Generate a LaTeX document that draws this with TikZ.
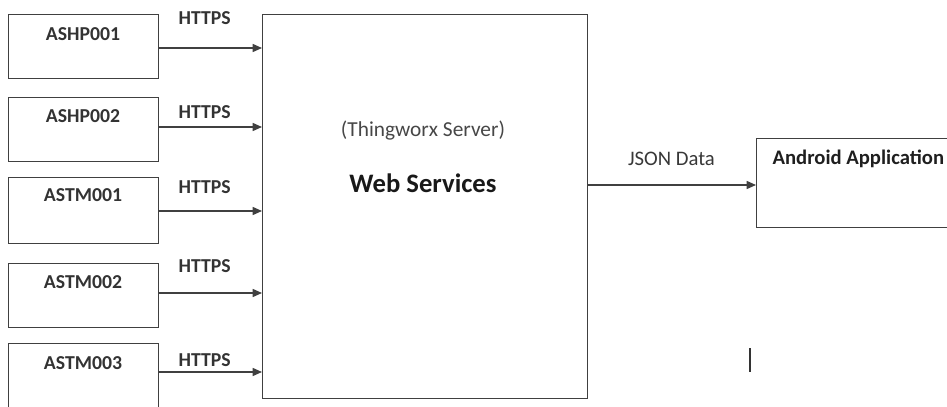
\documentclass[tikz,border=0pt]{standalone}
\usepackage{fontspec}
\setmainfont{Carlito}
\usetikzlibrary{arrows.meta,positioning}

\tikzset{
  blk/.style={draw=black!75, line width=1.1pt, rectangle, inner sep=0pt},
  lbl/.style={font=\fontsize{14.8}{17}\selectfont\bfseries, text=black!80, inner sep=1pt},
  link/.style={draw=black!75, line width=1.1pt, -{Triangle[length=7pt,width=6pt]}},
}

\begin{document}
\begin{tikzpicture}[x=0.75pt,y=-0.75pt]
\clip (0,0) rectangle (947,407);

% devices on the left
\node[blk, minimum width=150*0.75pt, minimum height=64*0.75pt, anchor=north west] (d1) at (8,14) {};
\node[blk, minimum width=150*0.75pt, minimum height=64*0.75pt, anchor=north west] (d2) at (8,97) {};
\node[blk, minimum width=150*0.75pt, minimum height=66*0.75pt, anchor=north west] (d3) at (8,177) {};
\node[blk, minimum width=150*0.75pt, minimum height=64*0.75pt, anchor=north west] (d4) at (8,263) {};
\node[blk, minimum width=150*0.75pt, minimum height=70*0.75pt, anchor=north west] (d5) at (8,343) {};

\node[lbl] (n1) at (83,34) {ASHP001};
\node[lbl] (n2) at (83,116) {ASHP002};
\node[lbl] (n3) at (83,195) {ASTM001};
\node[lbl] (n4) at (83,282) {ASTM002};
\node[lbl] (n5) at (83,363) {ASTM003};

% server
\node[blk, minimum width=325*0.75pt, minimum height=384*0.75pt, anchor=north west] (ws) at (262,14) {};
\node[font=\fontsize{16}{18}\selectfont, text=black!72] (thx) at (423,131) {(Thingworx Server)};
\node[font=\fontsize{20}{23}\selectfont\bfseries, text=black!90] (wst) at (423,183) {Web Services};

% client
\node[blk, minimum width=200*0.75pt, minimum height=89*0.75pt, anchor=north west] (app) at (756,138) {};
\node[lbl, font=\fontsize{15.5}{18}\selectfont\bfseries, text=black!88, anchor=west] (appt) at (771,159) {Android Application};

% inputs
\coordinate (i1) at (262,48);
\coordinate (i2) at (262,127);
\coordinate (i3) at (262,211);
\coordinate (i4) at (262,293);
\coordinate (i5) at (262,372);
\draw[link] (d1.east |- i1) -- node[lbl, xshift=-4.5pt, yshift=22.5pt] (h1) {HTTPS} (i1);
\draw[link] (d2.east |- i2) -- node[lbl, xshift=-4.5pt, yshift=11.25pt] (h2) {HTTPS} (i2);
\draw[link] (d3.east |- i3) -- node[lbl, xshift=-4.5pt, yshift=18pt] (h3) {HTTPS} (i3);
\draw[link] (d4.east |- i4) -- node[lbl, xshift=-4.5pt, yshift=20.25pt] (h4) {HTTPS} (i4);
\draw[link] (d5.east |- i5) -- node[lbl, xshift=-4.5pt, yshift=9pt] (h5) {HTTPS} (i5);

% output
\coordinate (o1) at (587,185);
\draw[link] (o1) -- node[font=\fontsize{15.5}{18}\selectfont, text=black!78, yshift=19.5pt] (js) {JSON Data} (app.west |- o1);

% stray bar
\coordinate (c1) at (750,348);
\coordinate (c2) at (750,372);
\draw[black!80, line width=1.6pt] (c1) -- (c2);

\end{tikzpicture}
\end{document}
